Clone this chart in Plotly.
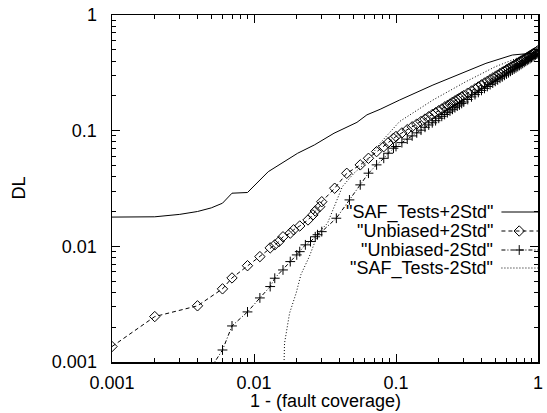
import plotly.graph_objects as go

# ---------------- data ----------------
saf_plus_x = [0.001, 0.002, 0.003, 0.004, 0.005, 0.006, 0.007, 0.009, 0.0126, 0.0164,
              0.0203, 0.0266, 0.0366, 0.0531, 0.0624, 0.0773, 0.106, 0.182, 0.31, 0.43,
              0.66, 0.90, 1.0]
saf_plus_y = [0.0179, 0.0180, 0.0189, 0.0200, 0.0215, 0.0236, 0.0288, 0.0292, 0.0442, 0.054,
              0.0638, 0.0752, 0.095, 0.118, 0.137, 0.153, 0.184, 0.248, 0.324, 0.382,
              0.451, 0.467, 0.495]

unb_plus_x = [0.001, 0.002, 0.004, 0.006, 0.007, 0.009, 0.011, 0.013, 0.014, 0.015,
              0.016, 0.018, 0.019, 0.021, 0.024, 0.026, 0.027, 0.029, 0.030, 0.037,
              0.045, 0.056, 0.064, 0.073, 0.082, 0.088, 0.096,
              0.10, 0.11, 0.12, 0.13, 0.14, 0.15, 0.16, 0.17, 0.18, 0.19,
              0.20, 0.21, 0.22, 0.23, 0.24, 0.25, 0.26, 0.27, 0.28, 0.29, 0.30,
              0.32, 0.34, 0.36, 0.38, 0.40, 0.42, 0.44, 0.46, 0.48, 0.50,
              0.52, 0.54, 0.56, 0.58, 0.60, 0.62, 0.64, 0.66, 0.68, 0.70,
              0.72, 0.74, 0.76, 0.78, 0.80, 0.82, 0.84, 0.86, 0.88, 0.90,
              0.92, 0.94, 0.96, 0.98, 1.00]
unb_plus_y = [0.00136, 0.00247, 0.00306, 0.00429, 0.00533, 0.0068, 0.00815, 0.0097, 0.0103, 0.0110,
              0.0121, 0.0130, 0.0139, 0.0150, 0.0169, 0.0187, 0.0202, 0.0220, 0.0243, 0.0318,
              0.0428, 0.0506, 0.0577, 0.0659, 0.0727, 0.0787, 0.0859,
              0.0891, 0.0956, 0.102, 0.108, 0.114, 0.120, 0.126, 0.132, 0.138, 0.143,
              0.149, 0.154, 0.160, 0.165, 0.170, 0.176, 0.181, 0.186, 0.191, 0.196, 0.201,
              0.211, 0.220, 0.230, 0.239, 0.249, 0.258, 0.267, 0.276, 0.285, 0.293,
              0.302, 0.311, 0.319, 0.327, 0.336, 0.344, 0.352, 0.360, 0.368, 0.376,
              0.384, 0.392, 0.400, 0.408, 0.415, 0.423, 0.431, 0.438, 0.446, 0.453,
              0.461, 0.468, 0.475, 0.483, 0.492]

unb_minus_x = [0.005, 0.006, 0.007, 0.009, 0.011, 0.013, 0.014, 0.016, 0.018, 0.020,
               0.021, 0.023, 0.025, 0.027, 0.028, 0.030, 0.038, 0.047, 0.056, 0.064,
               0.073, 0.082, 0.088, 0.096,
               0.10, 0.11, 0.12, 0.13, 0.14, 0.15, 0.16, 0.17, 0.18, 0.19,
               0.20, 0.21, 0.22, 0.23, 0.24, 0.25, 0.26, 0.27, 0.28, 0.29, 0.30,
               0.32, 0.34, 0.36, 0.38, 0.40, 0.42, 0.44, 0.46, 0.48, 0.50,
               0.52, 0.54, 0.56, 0.58, 0.60, 0.62, 0.64, 0.66, 0.68, 0.70,
               0.72, 0.74, 0.76, 0.78, 0.80, 0.82, 0.84, 0.86, 0.88, 0.90,
               0.92, 0.94, 0.96, 0.98, 1.00]
unb_minus_y = [0.0009, 0.00127, 0.00205, 0.00271, 0.00358, 0.00449, 0.0053, 0.00625, 0.00738, 0.00843,
               0.0090, 0.0103, 0.0110, 0.0121, 0.0126, 0.0134, 0.0175, 0.0252, 0.0340, 0.0429,
               0.0506, 0.0577, 0.0638, 0.0705,
               0.0730, 0.0788, 0.0845, 0.0901, 0.0957, 0.101, 0.107, 0.112, 0.117, 0.122,
               0.128, 0.133, 0.138, 0.143, 0.148, 0.153, 0.158, 0.163, 0.167, 0.172, 0.177,
               0.186, 0.196, 0.205, 0.214, 0.223, 0.232, 0.241, 0.250, 0.258, 0.267,
               0.275, 0.284, 0.292, 0.301, 0.309, 0.317, 0.326, 0.334, 0.342, 0.350,
               0.358, 0.366, 0.374, 0.382, 0.390, 0.398, 0.406, 0.413, 0.421, 0.429,
               0.436, 0.444, 0.452, 0.459, 0.467]

saf_minus_x = [0.016, 0.0164, 0.0178, 0.0198, 0.0214, 0.0245, 0.0266, 0.0288, 0.0329, 0.0366,
               0.0419, 0.0505, 0.0624, 0.0773, 0.0908, 0.106, 0.182, 0.31, 0.50, 0.81, 1.0]
saf_minus_y = [0.0004, 0.00145, 0.00264, 0.00394, 0.0057, 0.00814, 0.0106, 0.0134, 0.0158, 0.0216,
               0.0328, 0.0428, 0.054, 0.078, 0.098, 0.120, 0.184, 0.265, 0.357, 0.451, 0.49]

series_names = ['"SAF_Tests+2Std"', '"Unbiased+2Std"', '"Unbiased-2Std"', '"SAF_Tests-2Std"']
tick_vals = [0.001, 0.01, 0.1, 1]
tick_text = ["0.001", "0.01", "0.1", "1"]
x_title = "1 - (fault coverage)"
y_title = "DL"

# ---------------- styling ----------------
FONT = "Liberation Sans, Arial, Helvetica, sans-serif"
W, H = 547, 413
L, R, T, B = 112, 4, 15, 51
PW, PH = W - L - R, H - T - B

dashes = ["solid", "4px,3px", "4px,2px,1px,2px", "1px,2px"]
symbols = [None, "diamond-open", "cross-thin-open", None]

fig = go.Figure()
data = [(saf_plus_x, saf_plus_y), (unb_plus_x, unb_plus_y),
        (unb_minus_x, unb_minus_y), (saf_minus_x, saf_minus_y)]
for i, (xs, ys) in enumerate(data):
    mode = "lines+markers" if symbols[i] else "lines"
    marker = dict(symbol=symbols[i], size=8 if i == 1 else 7, color="black",
                  line=dict(color="black", width=1)) if symbols[i] else None
    fig.add_trace(go.Scatter(x=xs, y=ys, mode=mode, name=series_names[i],
                             line=dict(color="black", width=1, dash=dashes[i]),
                             marker=marker, showlegend=False))

# legend drawn gnuplot-style: right-aligned text, sample to the right
row_px = [212, 231, 250, 268]
for i, name in enumerate(series_names):
    ypx = row_px[i]
    fig.add_annotation(text=name, xref="paper", yref="paper",
                       x=(500 - L) / PW, y=(H - B - ypx) / PH,
                       xanchor="right", yanchor="middle", showarrow=False,
                       font=dict(family=FONT, size=18, color="black"))
    fig.add_trace(go.Scatter(x=[506, 543], y=[ypx, ypx], mode="lines",
                             xaxis="x2", yaxis="y2", showlegend=False,
                             line=dict(color="black", width=1, dash=dashes[i])))
    if symbols[i]:
        fig.add_trace(go.Scatter(x=[524], y=[ypx], mode="markers",
                                 xaxis="x2", yaxis="y2", showlegend=False,
                                 marker=dict(symbol=symbols[i], size=8 if i == 1 else 7,
                                             color="black",
                                             line=dict(color="black", width=1))))

axis_common = dict(
    type="log", range=[-3, 0], tickvals=tick_vals, ticktext=tick_text,
    showline=True, linecolor="black", linewidth=1.5, mirror="allticks",
    ticks="inside", ticklen=8, tickwidth=1, tickcolor="black",
    showgrid=False, zeroline=False,
    tickfont=dict(family=FONT, size=18, color="black"),
    minor=dict(ticks="inside", ticklen=4, tickwidth=1, tickcolor="black",
               dtick="D1", showgrid=False),
)

fig.update_layout(
    width=W, height=H,
    margin=dict(l=L, r=R, t=T, b=B, pad=0),
    paper_bgcolor="white", plot_bgcolor="white",
    font=dict(family=FONT, size=18, color="black"),
    xaxis=dict(**axis_common, ticklabelstandoff=4),
    yaxis=dict(**axis_common, ticklabelstandoff=10),
    xaxis2=dict(overlaying="x", range=[L, W - R], visible=False, showgrid=False),
    yaxis2=dict(overlaying="y", range=[H - B, T], visible=False, showgrid=False),
    showlegend=False,
    hovermode=False,
)

fig.add_annotation(text=x_title, xref="paper", yref="paper", x=0.5,
                   y=(H - B - 401) / PH, xanchor="center", yanchor="middle",
                   showarrow=False, font=dict(family=FONT, size=18, color="black"))
fig.add_annotation(text=y_title, xref="paper", yref="paper", x=(17 - L) / PW,
                   y=0.5, xanchor="center", yanchor="middle", textangle=-90,
                   showarrow=False, font=dict(family=FONT, size=18, color="black"))

fig.write_html(
    "out.html",
    config={"displayModeBar": False, "staticPlot": True},
    post_script="document.body.style.margin='0';document.body.style.padding='0';"
                "document.documentElement.style.overflow='hidden';",
)
